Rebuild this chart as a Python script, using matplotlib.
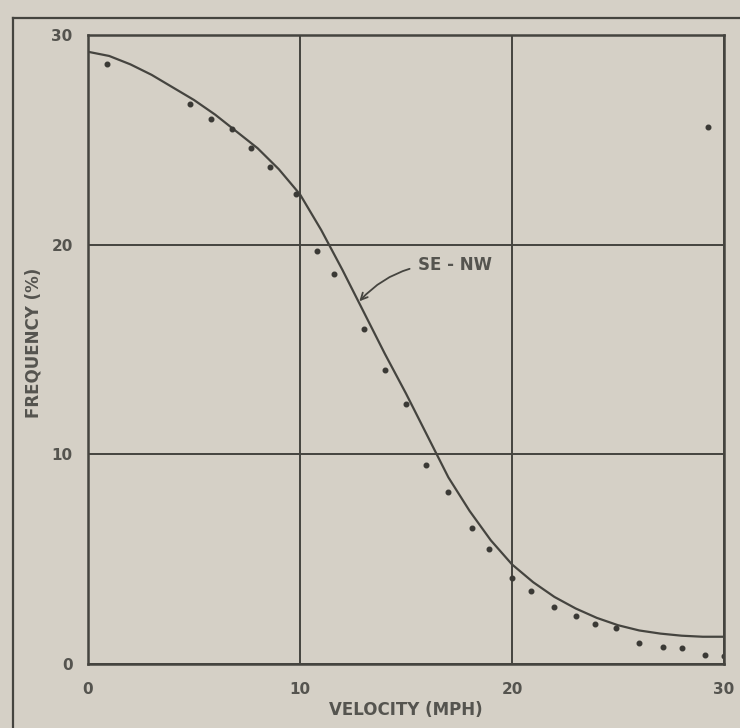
import matplotlib
matplotlib.use("Agg")
import matplotlib.pyplot as plt
from matplotlib.lines import Line2D

# observed points
vel_obs = [0.9, 4.8, 5.8, 6.8, 7.7, 8.6, 9.8, 10.8, 11.6, 13.0, 14.0, 15.0, 15.95, 17.0,
           18.1, 18.9, 20.0, 20.9, 22.0, 23.0, 23.9, 24.9, 26.0, 27.1, 28.0, 29.1, 30.0, 29.25]
freq_obs = [28.6, 26.7, 26.0, 25.5, 24.6, 23.7, 22.4, 19.7, 18.6, 16.0, 14.0, 12.4, 9.5, 8.2,
            6.5, 5.5, 4.1, 3.5, 2.7, 2.3, 1.9, 1.7, 1.0, 0.8, 0.75, 0.45, 0.38, 25.6]

# fitted curve
vel_fit = list(range(0, 31))
freq_fit = [29.2, 29.0, 28.6, 28.1, 27.5, 26.9, 26.2, 25.4, 24.6, 23.6,
            22.4, 20.7, 18.8, 16.8, 14.8, 12.9, 10.9, 8.9, 7.3, 5.9,
            4.75, 3.9, 3.2, 2.65, 2.2, 1.85, 1.6, 1.45, 1.35, 1.3, 1.3]

x_ticks = [0, 10, 20, 30]
y_ticks = [0, 10, 20, 30]
curve_label = "SE - NW"

bg = "#d5d0c6"
ink = "#45443f"
txt = "#55544f"

fig = plt.figure(figsize=(7.4, 7.28), dpi=100, facecolor=bg)
ax = fig.add_axes([88/740, 1-664/728, (724-88)/740, (664-35)/728])
ax.set_facecolor(bg)

ax.plot(vel_fit, freq_fit, color=ink, lw=1.6, solid_capstyle="round")
ax.plot(vel_obs, freq_obs, ls="none", marker="o", ms=3.3, color="#3a3935")

ax.set_xlim(0, 30)
ax.set_ylim(0, 30)
ax.set_xticks(x_ticks)
ax.set_yticks(y_ticks)
ax.set_xticklabels([str(v) for v in x_ticks])
ax.set_yticklabels([str(v) for v in y_ticks])
ax.tick_params(axis="x", length=0, pad=13, labelsize=11, colors=txt)
ax.tick_params(axis="y", length=0, pad=11, labelsize=11, colors=txt)
for lab in ax.get_xticklabels() + ax.get_yticklabels():
    lab.set_fontweight("bold")
ax.grid(True, color=ink, lw=1.4)
for s in ax.spines.values():
    s.set_color(ink)
    s.set_linewidth(1.8)

ax.set_xlabel("VELOCITY (MPH)", fontsize=12, fontweight="bold", color=txt, labelpad=3)
ax.set_ylabel("FREQUENCY (%)", fontsize=12, fontweight="bold", color=txt)
ax.yaxis.set_label_coords(-0.071, 0.51)

ax.annotate(curve_label, xy=(12.8, 17.3), xytext=(17.3, 18.6),
            fontsize=12, fontweight="bold", color=txt, ha="center", va="bottom",
            arrowprops=dict(arrowstyle="->", color=ink, lw=1.3,
                            connectionstyle="arc3,rad=0.25", shrinkA=4, shrinkB=0))

# outer frame
fig.add_artist(Line2D([13/740, 13/740], [0, 1-18/728], transform=fig.transFigure, color=ink, lw=1.6))
fig.add_artist(Line2D([13/740, 1], [1-18/728, 1-18/728], transform=fig.transFigure, color=ink, lw=1.6))

fig.savefig("out.png", dpi=100, facecolor=bg)
